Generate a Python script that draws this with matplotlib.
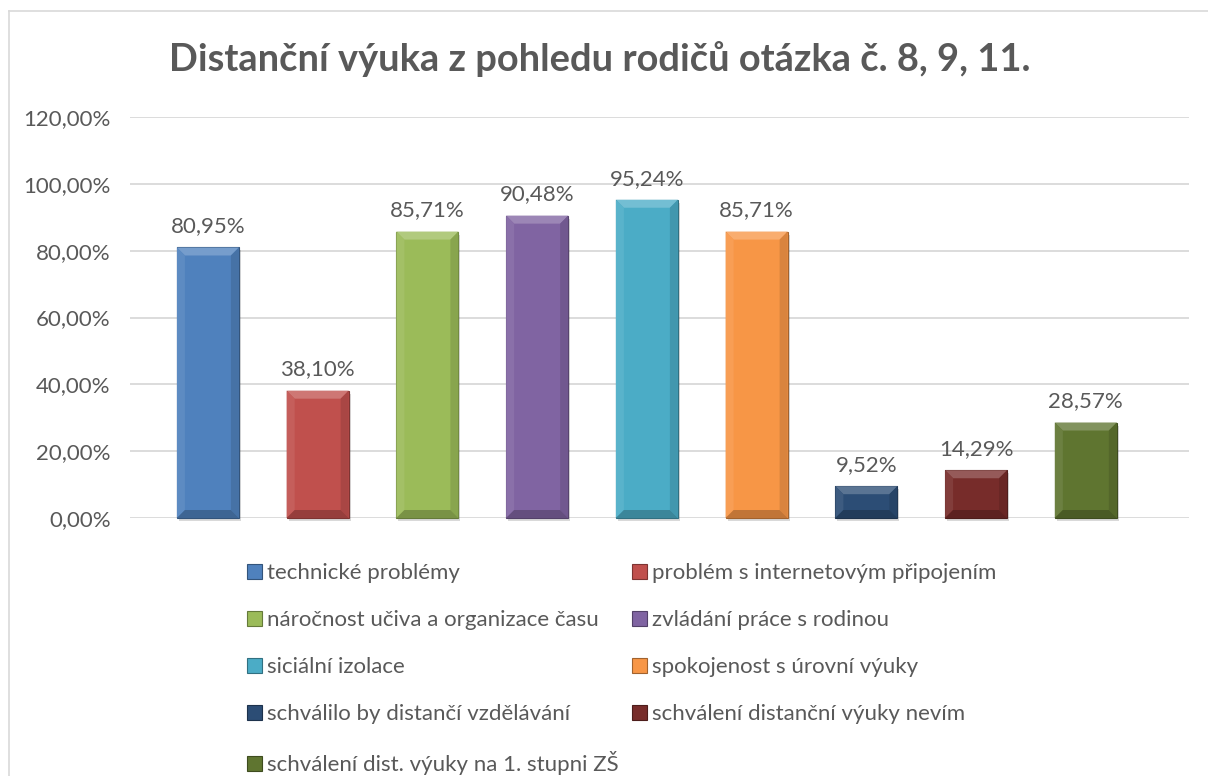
import matplotlib
matplotlib.use("Agg")
import matplotlib.pyplot as plt
import matplotlib.colors as mcolors
from matplotlib.patches import Polygon, Rectangle
from matplotlib.lines import Line2D

categories = [
    "technické problémy",
    "problém s internetovým připojením",
    "náročnost učiva a organizace času",
    "zvládání práce s rodinou",
    "siciální izolace",
    "spokojenost s úrovní výuky",
    "schválilo by distančí vzdělávání",
    "schválení distanční výuky nevím",
    "schválení dist. výuky na 1. stupni ZŠ",
]
values = [80.95, 38.10, 85.71, 90.48, 95.24, 85.71, 9.52, 14.29, 28.57]
value_labels = ["80,95%", "38,10%", "85,71%", "90,48%", "95,24%", "85,71%", "9,52%", "14,29%", "28,57%"]
colors = ["#4F81BD", "#C0504D", "#9BBB59", "#8064A2", "#4BACC6", "#F79646",
          "#2C4D75", "#772C2A", "#5F7530"]
yticks = [0, 20, 40, 60, 80, 100, 120]
ytick_labels = ["0,00%", "20,00%", "40,00%", "60,00%", "80,00%", "100,00%", "120,00%"]
title = "Distanční výuka z pohledu rodičů otázka č. 8, 9, 11."

FONT = "Lato"
TXT = "#595959"
W, H = 1208, 776
fig = plt.figure(figsize=(W / 100, H / 100), dpi=100)
fig.patch.set_facecolor("white")

# chart border (left & top visible)
fig.add_artist(Line2D([9 / W, 9 / W], [0, 1 - 11 / H], transform=fig.transFigure, color="#D9D9D9", lw=1.2))
fig.add_artist(Line2D([9 / W, 1], [1 - 11 / H, 1 - 11 / H], transform=fig.transFigure, color="#D9D9D9", lw=1.2))

ax = fig.add_axes([130 / W, 1 - 518 / H, (1189 - 130) / W, (518 - 117) / H])
x = list(range(len(values)))
bw = 0.565
bars = ax.bar(x, values, width=bw, color=colors, edgecolor="none", zorder=3)
ax.set_ylim(0, 120)
ax.set_xlim(-0.71, 8.94)
ax.set_yticks(yticks)
ax.set_yticklabels(ytick_labels, fontfamily=FONT, fontsize=16, color=TXT)
ax.tick_params(axis="y", length=0, pad=14)
ax.set_xticks([])
for s in ax.spines.values():
    s.set_visible(False)
ax.grid(axis="y", color="#D9D9D9", lw=1.3, zorder=0)
ax.set_axisbelow(True)

for xi, v, lab in zip(x, values, value_labels):
    ax.annotate(lab, (xi, v), xytext=(0, 8), textcoords="offset points",
                ha="center", va="bottom", fontfamily=FONT, fontsize=16, color=TXT)

# bevel effect on bars
fig.canvas.draw()
def shade(c, f):
    r, g, b = mcolors.to_rgb(c)
    if f >= 0:
        return (r + (1 - r) * f, g + (1 - g) * f, b + (1 - b) * f)
    return (r * (1 + f), g * (1 + f), b * (1 + f))

for b, c in zip(bars, colors):
    (x0, y0), (x1, y1) = ax.transData.transform([(b.get_x(), 0), (b.get_x() + b.get_width(), b.get_height())])
    d = 8
    fig.add_artist(Rectangle((x0 + 2, y0 - 3), x1 - x0, y1 - y0, transform=None,
                             facecolor=(0, 0, 0, 0.15), edgecolor="none", zorder=2))
    fig.add_artist(Rectangle((x0, y0), x1 - x0, y1 - y0, transform=None,
                             facecolor=c, edgecolor=shade(c, -0.35), lw=0.8, zorder=3))
    polys = [
        ([(x0, y1), (x1, y1), (x1 - d, y1 - d), (x0 + d, y1 - d)], shade(c, 0.22)),
        ([(x0, y0), (x0, y1), (x0 + d, y1 - d), (x0 + d, y0 + d)], shade(c, 0.08)),
        ([(x1, y0), (x1, y1), (x1 - d, y1 - d), (x1 - d, y0 + d)], shade(c, -0.12)),
        ([(x0, y0), (x1, y0), (x1 - d, y0 + d), (x0 + d, y0 + d)], shade(c, -0.22)),
    ]
    for pts, col in polys:
        fig.add_artist(Polygon(pts, closed=True, transform=None, facecolor=col, edgecolor="none", zorder=4))

fig.text(600 / W, 1 - 59 / H, title, ha="center", va="center", fontfamily=FONT,
         fontweight="bold", fontsize=27.4, color=TXT)

# legend (row-wise order: reorder for column-major filling)
handles = [Rectangle((0, 0), 1, 1, facecolor=c, edgecolor=shade(c, -0.35), lw=0.8) for c in colors]
order = [0, 2, 4, 6, 8, 1, 3, 5, 7]
leg = fig.legend([handles[i] for i in order], [categories[i] for i in order],
                 ncol=2, loc="upper left", bbox_to_anchor=(247 / W, 1 - 563 / H),
                 frameon=False, prop={"family": FONT, "size": 16},
                 handlelength=0.66, handleheight=0.66, handletextpad=0.25,
                 labelspacing=1.22, columnspacing=0.6, borderaxespad=0, borderpad=0)
for t in leg.get_texts():
    t.set_color(TXT)

fig.savefig("out.png", dpi=100)
